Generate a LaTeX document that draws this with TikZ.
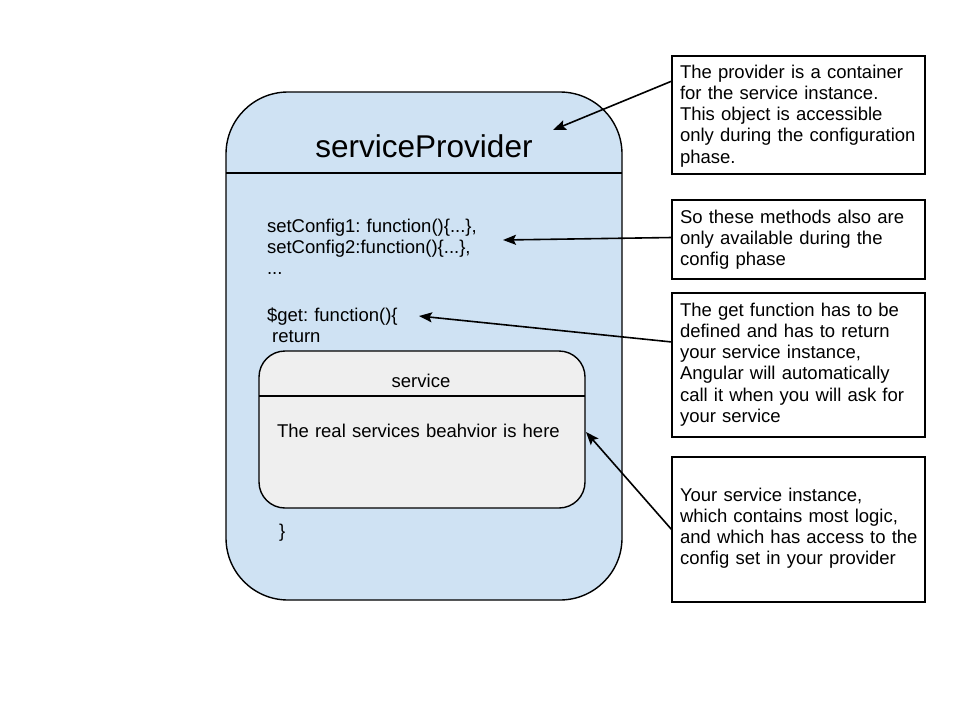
\documentclass[tikz,border=0pt]{standalone}
\usepackage{fontspec}
\setmainfont{Liberation Sans}
\usetikzlibrary{arrows.meta}
\frenchspacing
\definecolor{provblue}{HTML}{CFE2F3}
\definecolor{servgrey}{HTML}{EFEFEF}
\tikzset{
  shapebox/.style={draw=black, line width=1.4pt, inner sep=0pt, outer sep=0pt, anchor=north west},
  provbox/.style={shapebox, fill=provblue, rounded corners=62pt},
  servbox/.style={shapebox, fill=servgrey, rounded corners=26pt},
  notebox/.style={shapebox, fill=white, minimum width=253pt},
  divider/.style={draw=black, line width=1.4pt},
  txt/.style={inner sep=0pt, outer sep=0pt, anchor=base west, align=left, text width=#1,
    font=\fontsize{18.5pt}{21.3pt}\selectfont},
  txt/.default=240pt,
  codetxt/.style={inner sep=0pt, outer sep=0pt, anchor=base west, align=left, text width=300pt,
    font=\fontsize{18.5pt}{21pt}\selectfont},
  arr/.style={draw=black, line width=1.6pt, -{Stealth[length=13pt, width=10pt, inset=2.5pt]}},
}
\begin{document}
\begin{tikzpicture}[x=1pt, y=-1pt]
  \useasboundingbox[fill=white] (0,0) rectangle (960,720);

  % provider
  \node[provbox, minimum width=396pt, minimum height=508pt] (prov) at (226,92) {};
  \draw[divider] (prov.west |- 0,173) -- (prov.east |- 0,173);
  \node[inner sep=0pt, anchor=base, font=\fontsize{31.5pt}{36pt}\selectfont] (provtitle) at (424,157) {serviceProvider};

  \node[codetxt] (cfg) at (267,232.5) {setConfig1: function()\{...\},\\setConfig2:function()\{...\},\\...};
  \node[codetxt] (get) at (267,321.5) {\$get: function()\{\\\hspace*{5.2pt}return};

  % service
  \node[servbox, minimum width=326pt, minimum height=157pt] (serv) at (259,351) {};
  \draw[divider] (serv.west |- 0,396) -- (serv.east |- 0,396);
  \node[inner sep=0pt, anchor=base, font=\fontsize{18.5pt}{21pt}\selectfont] (servtitle) at (421,387) {service};
  \node[txt=300pt] (servtxt) at (277,437) {The real services beahvior is here};
  \node[txt=40pt] (brace) at (279,537) {\}};

  % notes
  \node[notebox, minimum height=118pt] (n1) at (672,56) {};
  \node[txt] (t1) at (680,78) {The provider is a container\\for the service instance.\\This object is accessible\\only during the configuration\\phase.};

  \node[notebox, minimum height=79pt] (n2) at (672,200) {};
  \node[txt] (t2) at (680,223) {So these methods also are\\only available during the\\config phase};

  \node[notebox, minimum height=144pt] (n3) at (672,293) {};
  \node[txt] (t3) at (680,316) {The get function has to be\\defined and has to return\\your service instance,\\Angular will automatically\\call it when you will ask for\\your service};

  \node[notebox, minimum height=145pt] (n4) at (672,457) {};
  \node[txt] (t4) at (680,501) {Your service instance,\\which contains most logic,\\and which has access to the\\config set in your provider};

  % arrow tips
  \coordinate (a1) at (553,130);
  \coordinate (a2) at (503,240);
  \coordinate (a3) at (419,316);
  \coordinate (a4) at (586,432);

  \draw[arr] (n1.west |- 0,81) -- (a1);
  \draw[arr] (n2.west |- 0,237.5) -- (a2);
  \draw[arr] (n3.west |- 0,342) -- (a3);
  \draw[arr] (n4.west |- 0,530) -- (a4);
\end{tikzpicture}
\end{document}
